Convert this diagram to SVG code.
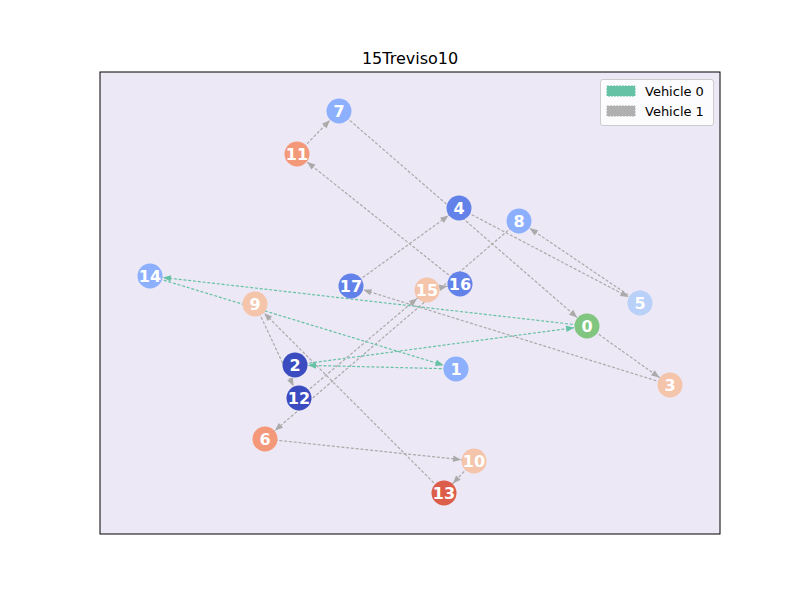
<svg xmlns="http://www.w3.org/2000/svg" width="800" height="600" viewBox="0 0 800 600">
  <style>
    .title { font-family: "DejaVu Sans", sans-serif; font-size: 16px; fill: #000; }
    .route0 line { stroke: #66c2a5; stroke-width: 1.2; stroke-dasharray: 3,1.8; marker-end: url(#head0); }
    .route1 line { stroke: #aaaaaa; stroke-width: 1.2; stroke-dasharray: 3,1.8; marker-end: url(#head1); }
    .node text { font-family: "DejaVu Sans", sans-serif; font-weight: bold; font-size: 16px; fill: #fff; text-anchor: middle; dominant-baseline: central; }
    .legend text { font-family: "DejaVu Sans", sans-serif; font-size: 13px; fill: #000; }
  </style>
  <defs>
    <!-- arrowheads stop at the node rim (radius 12.5) -->
    <marker id="head0" markerUnits="userSpaceOnUse" viewBox="0 0 30 8" refX="21" refY="4" markerWidth="30" markerHeight="8" orient="auto" overflow="visible">
      <path d="M0,0.8 L8,4 L0,7.2 z" fill="#66c2a5"/>
    </marker>
    <marker id="head1" markerUnits="userSpaceOnUse" viewBox="0 0 30 8" refX="21" refY="4" markerWidth="30" markerHeight="8" orient="auto" overflow="visible">
      <path d="M0,0.8 L8,4 L0,7.2 z" fill="#aaaaaa"/>
    </marker>
  </defs>

  <rect width="800" height="600" fill="#ffffff"/>
  <rect x="100" y="72" width="620" height="462" fill="#ede8f5"/>

  <text class="title" x="410" y="64" text-anchor="middle">15Treviso10</text>

  <g id="connectors">
    <g class="route1">
      <line x1="587" y1="326" x2="670" y2="385"/>
      <line x1="670" y1="385" x2="351" y2="286"/>
      <line x1="351" y1="286" x2="459" y2="208"/>
      <line x1="459" y1="208" x2="640" y2="303"/>
      <line x1="640" y1="303" x2="519" y2="221"/>
      <line x1="519" y1="221" x2="265" y2="439"/>
      <line x1="265" y1="439" x2="474" y2="461"/>
      <line x1="474" y1="461" x2="444" y2="493"/>
      <line x1="444" y1="493" x2="255" y2="304"/>
      <line x1="255" y1="304" x2="299" y2="398"/>
      <line x1="299" y1="398" x2="427" y2="290"/>
      <line x1="427" y1="290" x2="460" y2="284"/>
      <line x1="460" y1="284" x2="297" y2="154"/>
      <line x1="297" y1="154" x2="339" y2="111"/>
      <line x1="339" y1="111" x2="587" y2="326"/>
    </g>
    <g class="route0">
      <line x1="587" y1="326" x2="150" y2="276"/>
      <line x1="150" y1="276" x2="456" y2="369"/>
      <line x1="456" y1="369" x2="295" y2="365"/>
      <line x1="295" y1="365" x2="587" y2="326"/>
    </g>
  </g>

  <g id="node-0" class="node"><circle cx="587" cy="326" r="12.5" fill="#80c680"/><text x="587" y="326">0</text></g>
  <g id="node-1" class="node"><circle cx="456" cy="369" r="12.5" fill="#8db0fe"/><text x="456" y="369">1</text></g>
  <g id="node-2" class="node"><circle cx="295" cy="365" r="12.5" fill="#3b4cc0"/><text x="295" y="365">2</text></g>
  <g id="node-3" class="node"><circle cx="670" cy="385" r="12.5" fill="#f4c4ab"/><text x="670" y="385">3</text></g>
  <g id="node-4" class="node"><circle cx="459" cy="208" r="12.5" fill="#6282ea"/><text x="459" y="208">4</text></g>
  <g id="node-5" class="node"><circle cx="640" cy="303" r="12.5" fill="#b9d0f9"/><text x="640" y="303">5</text></g>
  <g id="node-6" class="node"><circle cx="265" cy="439" r="12.5" fill="#f4987a"/><text x="265" y="439">6</text></g>
  <g id="node-7" class="node"><circle cx="339" cy="111" r="12.5" fill="#8db0fe"/><text x="339" y="111">7</text></g>
  <g id="node-8" class="node"><circle cx="519" cy="221" r="12.5" fill="#8db0fe"/><text x="519" y="221">8</text></g>
  <g id="node-9" class="node"><circle cx="255" cy="304" r="12.5" fill="#f4c4ab"/><text x="255" y="304">9</text></g>
  <g id="node-10" class="node"><circle cx="474" cy="461" r="12.5" fill="#f4c4ab"/><text x="474" y="461">10</text></g>
  <g id="node-11" class="node"><circle cx="297" cy="154" r="12.5" fill="#f4987a"/><text x="297" y="154">11</text></g>
  <g id="node-12" class="node"><circle cx="299" cy="398" r="12.5" fill="#3b4cc0"/><text x="299" y="398">12</text></g>
  <g id="node-13" class="node"><circle cx="444" cy="493" r="12.5" fill="#dc5d4a"/><text x="444" y="493">13</text></g>
  <g id="node-14" class="node"><circle cx="150" cy="276" r="12.5" fill="#8db0fe"/><text x="150" y="276">14</text></g>
  <g id="node-15" class="node"><circle cx="427" cy="290" r="12.5" fill="#f4c4ab"/><text x="427" y="290">15</text></g>
  <g id="node-16" class="node"><circle cx="460" cy="284" r="12.5" fill="#6282ea"/><text x="460" y="284">16</text></g>
  <g id="node-17" class="node"><circle cx="351" cy="286" r="12.5" fill="#6282ea"/><text x="351" y="286">17</text></g>

  <rect x="100" y="72" width="620" height="462" fill="none" stroke="#000" stroke-width="1"/>

  <g id="legend" class="legend">
    <rect x="600.5" y="79.5" width="113" height="46" rx="2.5" fill="#ffffff" fill-opacity="0.8" stroke="#cccccc" stroke-width="1"/>
    <rect x="607" y="86" width="28" height="10" fill="#66c2a5" stroke="#66c2a5" stroke-dasharray="2,1"/>
    <text x="645" y="96">Vehicle 0</text>
    <rect x="607" y="106" width="28" height="10" fill="#b0b0b0" stroke="#b0b0b0" stroke-dasharray="2,1"/>
    <text x="645" y="116">Vehicle 1</text>
  </g>
</svg>
